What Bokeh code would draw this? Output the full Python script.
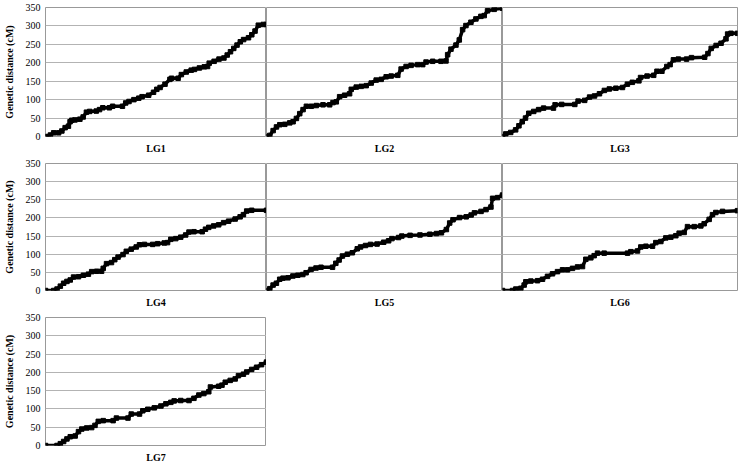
from bokeh.plotting import figure
from bokeh.layouts import column, row
from bokeh.models import Range1d, FixedTicker
from bokeh.embed import file_html
from bokeh.resources import INLINE

# marker order (x) and cumulative genetic distance in cM (y) per linkage group
lg1_x = [0, 3, 5, 8, 10, 12, 14, 15, 16, 18, 21, 23, 25, 27, 31, 33, 35, 39, 41, 47, 49, 51, 54, 57, 59, 63, 66, 68,
         70, 73, 76, 77, 81, 83, 86, 89, 91, 94, 97, 99, 100, 103, 106, 109, 111, 113, 115, 117, 119, 121, 124, 126,
         128, 130, 133, 135]
lg1_y = [0, 4, 10, 10, 15, 24, 28, 40, 44, 45, 47, 53, 66, 68, 69, 73, 78, 78, 82, 82, 91, 95, 100, 104, 108, 112,
         120, 128, 133, 142, 155, 158, 158, 168, 175, 180, 182, 186, 189, 190, 199, 204, 210, 213, 221, 230, 239, 248,
         257, 263, 268, 276, 286, 302, 304, 304]

lg2_x = [0, 2, 4, 6, 8, 11, 14, 16, 18, 20, 22, 24, 27, 30, 34, 38, 40, 42, 44, 47, 50, 51, 54, 57, 60, 63, 66, 69,
         72, 75, 79, 81, 84, 87, 91, 94, 96, 100, 105, 108, 109, 111, 114, 116, 118, 120, 123, 126, 129, 131, 133,
         137, 142]
lg2_y = [0, 3, 16, 26, 32, 33, 37, 40, 49, 62, 73, 82, 82, 84, 86, 86, 92, 94, 108, 112, 116, 128, 134, 136, 138,
         145, 153, 155, 162, 164, 166, 183, 190, 193, 195, 195, 202, 204, 204, 205, 222, 237, 248, 262, 290, 301, 310,
         319, 326, 328, 341, 345, 348]

lg3_x = [0, 2, 5, 8, 10, 12, 14, 16, 19, 22, 25, 31, 32, 36, 44, 46, 50, 53, 56, 59, 62, 65, 69, 73, 76, 79, 83, 84,
         88, 92, 94, 97, 100, 102, 104, 107, 112, 115, 123, 125, 127, 130, 133, 136, 137, 139, 143]
lg3_y = [0, 7, 11, 18, 29, 40, 50, 63, 68, 73, 77, 77, 86, 87, 87, 96, 98, 107, 110, 116, 125, 129, 131, 133, 142,
         147, 151, 160, 164, 166, 177, 177, 190, 195, 208, 210, 210, 214, 215, 225, 239, 247, 253, 265, 278, 280, 280]

lg4_x = [0, 5, 7, 9, 11, 13, 15, 17, 20, 23, 26, 28, 31, 34, 35, 37, 40, 42, 44, 47, 49, 52, 55, 57, 60, 65, 68, 72,
         74, 76, 79, 82, 85, 87, 90, 95, 97, 99, 102, 105, 108, 111, 115, 118, 120, 122, 125, 134]
lg4_y = [0, 0, 4, 12, 20, 25, 29, 37, 38, 42, 45, 52, 53, 53, 61, 74, 77, 85, 92, 99, 108, 114, 120, 126, 127, 127,
         129, 131, 132, 141, 143, 147, 153, 161, 162, 162, 169, 174, 178, 181, 187, 191, 197, 203, 209, 219, 221, 221]

lg5_x = [0, 2, 4, 6, 8, 10, 13, 16, 19, 22, 24, 27, 30, 33, 40, 42, 44, 46, 49, 52, 55, 57, 60, 63, 67, 71, 74, 76,
         80, 82, 87, 93, 99, 103, 106, 109, 111, 113, 117, 121, 124, 126, 130, 133, 136, 137, 140, 143]
lg5_y = [0, 5, 15, 20, 31, 34, 35, 40, 42, 44, 49, 58, 62, 64, 64, 75, 84, 95, 100, 104, 115, 120, 124, 127, 128,
         133, 137, 143, 146, 150, 152, 153, 155, 157, 159, 168, 186, 195, 201, 203, 208, 214, 218, 223, 230, 254, 256,
         263]

lg6_x = [0, 6, 8, 11, 13, 14, 17, 21, 24, 27, 30, 33, 36, 39, 42, 45, 48, 50, 53, 55, 57, 61, 75, 77, 81, 83, 86, 90,
         92, 95, 98, 101, 104, 106, 109, 111, 115, 119, 121, 124, 126, 128, 132, 141]
lg6_y = [0, 0, 4, 6, 15, 24, 26, 27, 31, 39, 46, 52, 57, 57, 61, 65, 66, 86, 90, 96, 103, 103, 103, 107, 109, 120,
         122, 122, 132, 135, 145, 147, 151, 158, 160, 176, 176, 178, 184, 196, 209, 215, 218, 220]

lg7_x = [0, 7, 9, 11, 13, 15, 18, 20, 22, 25, 28, 30, 32, 35, 41, 43, 50, 52, 57, 59, 62, 66, 70, 73, 76, 78, 82, 87,
         90, 93, 96, 99, 100, 105, 107, 109, 112, 115, 117, 120, 122, 125, 128, 131, 134]
lg7_y = [0, 0, 5, 11, 18, 24, 26, 38, 45, 48, 49, 55, 66, 68, 68, 75, 75, 86, 86, 95, 99, 103, 108, 114, 118, 122,
         123, 123, 129, 138, 142, 147, 160, 162, 165, 173, 178, 182, 191, 195, 201, 208, 214, 221, 228]

group_names = ["LG1", "LG2", "LG3", "LG4", "LG5", "LG6", "LG7"]
y_ticks = [0, 50, 100, 150, 200, 250, 300, 350]
y_label = "Genetic distance (cM)"

FONT = "Liberation Serif"
GRID = "#b3b3b3"
EDGE = "#999999"

col_widths = [266, 236, 238]
col_left = [42, 0, 0]
col_right = [0, 0, 3]
row_heights = [156, 154, 155]
row_bottom = [20, 20, 18]


def panel(name, xs, ys, col, rw, x_end):
    first = col == 0
    p = figure(width=col_widths[col], height=row_heights[rw], output_backend="svg", toolbar_location=None,
               x_range=Range1d(0, x_end), y_range=Range1d(0, 350),
               min_border_left=col_left[col], min_border_right=col_right[col],
               min_border_top=7, min_border_bottom=row_bottom[rw])
    p.background_fill_color = "white"
    p.border_fill_color = "white"
    p.outline_line_color = EDGE
    p.outline_line_width = 1
    p.xgrid.visible = False
    p.ygrid.ticker = FixedTicker(ticks=y_ticks)
    p.ygrid.grid_line_color = GRID
    p.ygrid.grid_line_width = 1

    xa = p.xaxis[0]
    xa.ticker = FixedTicker(ticks=[])
    xa.axis_line_color = None
    xa.major_tick_line_color = None
    xa.minor_tick_line_color = None
    xa.major_label_standoff = 0
    xa.major_tick_out = 0
    xa.axis_label = name
    xa.axis_label_text_font = FONT
    xa.axis_label_text_font_style = "bold"
    xa.axis_label_text_font_size = "10px"
    xa.axis_label_text_color = "black"
    xa.axis_label_standoff = 6

    ya = p.yaxis[0]
    if first:
        ya.ticker = FixedTicker(ticks=y_ticks)
        ya.axis_line_color = None
        ya.major_tick_line_color = None
        ya.minor_tick_line_color = None
        ya.major_tick_out = 0
        ya.major_label_standoff = 5
        ya.major_label_text_font = FONT
        ya.major_label_text_font_size = "10px"
        ya.major_label_text_color = "black"
        ya.axis_label = y_label
        ya.axis_label_text_font = FONT
        ya.axis_label_text_font_style = "bold"
        ya.axis_label_text_font_size = "10px"
        ya.axis_label_text_color = "black"
        ya.axis_label_standoff = 8
    else:
        ya.visible = False

    p.line(xs, ys, line_color="black", line_width=3.5)
    p.scatter(xs, ys, marker="square", size=4.5, fill_color="black", line_color="black")
    return p


p1 = panel(group_names[0], lg1_x, lg1_y, 0, 0, lg1_x[-1])
p2 = panel(group_names[1], lg2_x, lg2_y, 1, 0, lg2_x[-1])
p3 = panel(group_names[2], lg3_x, lg3_y, 2, 0, lg3_x[-1])
p4 = panel(group_names[3], lg4_x, lg4_y, 0, 1, lg4_x[-1])
p5 = panel(group_names[4], lg5_x, lg5_y, 1, 1, lg5_x[-1])
p6 = panel(group_names[5], lg6_x, lg6_y, 2, 1, lg6_x[-1])
p7 = panel(group_names[6], lg7_x, lg7_y, 0, 2, lg7_x[-1])

layout = column(row(p1, p2, p3, spacing=0), row(p4, p5, p6, spacing=0), row(p7, spacing=0), spacing=0)

open("out.html", "w").write(file_html(layout, INLINE))
